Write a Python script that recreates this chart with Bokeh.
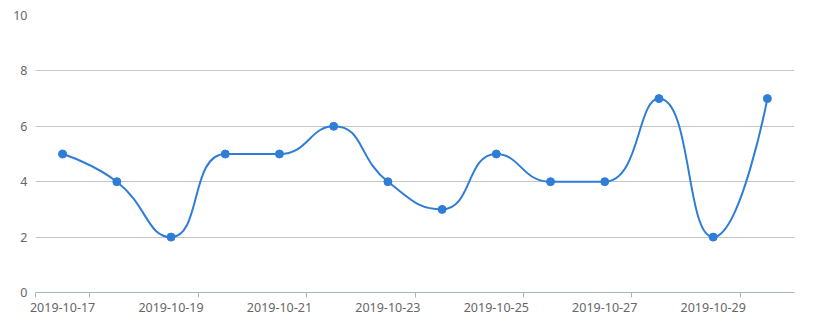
import math
from bokeh.plotting import figure
from bokeh.models import Range1d, FixedTicker
from bokeh.embed import file_html
from bokeh.resources import INLINE

dates = ["2019-10-17", "2019-10-18", "2019-10-19", "2019-10-20", "2019-10-21",
         "2019-10-22", "2019-10-23", "2019-10-24", "2019-10-25", "2019-10-26",
         "2019-10-27", "2019-10-28", "2019-10-29", "2019-10-30"]
values = [5, 4, 2, 5, 5, 6, 4, 3, 5, 4, 4, 7, 2, 7]
y_ticks = [0, 2, 4, 6, 8, 10]

LINE = "#2f7dd6"
TXT = "#666666"
FONT = "Noto Sans"

W, H = 815, 324
ML, MR, MT, MB = 35, 21, 15, 32
n = len(values)

p = figure(width=W, height=H, output_backend="svg", toolbar_location=None,
           x_range=Range1d(-0.5, n - 0.5), y_range=Range1d(0, 10),
           min_border_left=ML, min_border_right=MR, min_border_top=MT,
           min_border_bottom=MB)
p.outline_line_color = None
p.background_fill_color = "white"
p.border_fill_color = "white"

# pixel scale factors (smooth curve computed in screen space, ECharts-style)
SX = (W - ML - MR) / n
SY = (H - MT - MB) / 10.0
pts = [(i * SX, v * SY) for i, v in enumerate(values)]

smooth = 0.5
x0s, y0s, x1s, y1s, cx0, cy0, cx1, cy1 = [], [], [], [], [], [], [], []
cpx0, cpy0 = pts[0]
for idx in range(1, n):
    x, y = pts[idx]
    prevX, prevY = pts[idx - 1]
    if idx + 1 < n:
        nextX, nextY = pts[idx + 1]
        vx = nextX - prevX
        vy = nextY - prevY
        lp = math.hypot(x - prevX, y - prevY)
        ln = math.hypot(nextX - x, nextY - y)
        r = ln / (ln + lp)
        ncx = x + vx * smooth * r
        ncy = y + vy * smooth * r
        ncx = max(min(ncx, max(nextX, x)), min(nextX, x))
        ncy = max(min(ncy, max(nextY, y)), min(nextY, y))
        vx = ncx - x
        vy = ncy - y
        c1x = x - vx * lp / ln
        c1y = y - vy * lp / ln
        c1x = max(min(c1x, max(prevX, x)), min(prevX, x))
        c1y = max(min(c1y, max(prevY, y)), min(prevY, y))
        vx = x - c1x
        vy = y - c1y
        ncx = x + vx * ln / lp
        ncy = y + vy * ln / lp
    else:
        c1x, c1y = x, y
        ncx, ncy = x, y
    x0s.append(prevX / SX); y0s.append(prevY / SY)
    x1s.append(x / SX); y1s.append(y / SY)
    cx0.append(cpx0 / SX); cy0.append(cpy0 / SY)
    cx1.append(c1x / SX); cy1.append(c1y / SY)
    cpx0, cpy0 = ncx, ncy

p.bezier(x0=x0s, y0=y0s, x1=x1s, y1=y1s, cx0=cx0, cy0=cy0, cx1=cx1, cy1=cy1,
         line_color=LINE, line_width=2)
p.scatter(list(range(n)), values, size=8, fill_color=LINE, line_color=LINE,
          line_width=1)

# x axis
xa = p.xaxis[0]
xa.ticker = FixedTicker(ticks=list(range(0, n, 2)),
                        minor_ticks=[-0.5] + [i + 0.5 for i in range(0, n, 2)])
xa.major_label_overrides = {i: dates[i] for i in range(0, n, 2)}
xa.major_tick_line_color = None
xa.major_tick_out = 0
xa.major_tick_in = 0
xa.minor_tick_line_color = "#aab4c4"
xa.minor_tick_out = 5
xa.minor_tick_in = 0
xa.axis_line_color = "#aab4c4"
xa.major_label_standoff = 5
xa.major_label_text_font = FONT
xa.major_label_text_font_size = "12.5px"
xa.major_label_text_color = TXT
p.xgrid.grid_line_color = None

# y axis
ya = p.yaxis[0]
ya.ticker = FixedTicker(ticks=y_ticks)
ya.axis_line_color = None
ya.major_tick_line_color = None
ya.minor_tick_line_color = None
ya.major_tick_out = 0
ya.major_tick_in = 0
ya.major_label_standoff = 8
ya.major_label_text_font = FONT
ya.major_label_text_font_size = "12.5px"
ya.major_label_text_color = TXT
p.ygrid.grid_line_color = "#c4c4c4"
p.ygrid.grid_line_width = 1

open("out.html", "w").write(file_html(p, INLINE))
